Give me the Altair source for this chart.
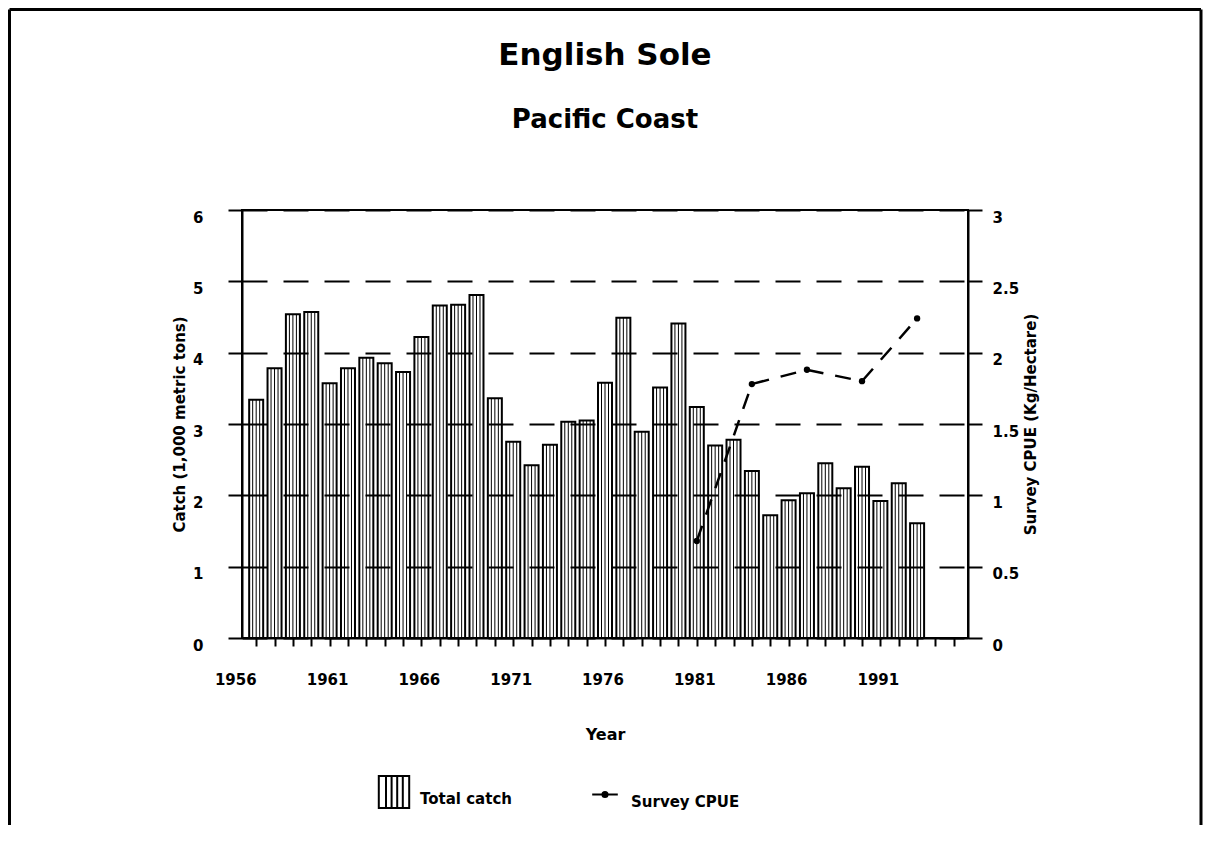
import altair as alt
import pandas as pd

# ---------------- data ----------------
years = list(range(1956, 1993))
total_catch = [3.34, 3.78, 4.54, 4.57, 3.57, 3.78, 3.93, 3.85, 3.73, 4.22,
               4.66, 4.67, 4.81, 3.36, 2.75, 2.42, 2.71, 3.03, 3.05, 3.58,
               4.49, 2.89, 3.51, 4.41, 3.24, 2.70, 2.78, 2.34, 1.72, 1.93,
               2.03, 2.45, 2.10, 2.40, 1.92, 2.17, 1.61]
survey_years = [1980, 1983, 1986, 1989, 1992]
survey_cpue = [0.68, 1.78, 1.88, 1.80, 2.24]
series_names = ["Total catch", "Survey CPUE"]
year_ticks = list(range(1956, 1995))
left_ticks = [0, 1, 2, 3, 4, 5, 6]
right_ticks = [0, 0.5, 1, 1.5, 2, 2.5, 3]

# ---------------- layout / style ----------------
W, H = 726, 428
FONT = "DejaVu Sans"
BAR_ICON = ("M-0.95,-1H0.95V1H-0.95Z M-0.5,-1V1 M-0.15,-1V1 M0.2,-1V1 M0.55,-1V1")
LINE_ICON = ("M-0.8,0H0.8 M-0.16,0A0.16,0.16 0 1,0 0.16,0A0.16,0.16 0 1,0 -0.16,0 "
             "M-0.07,0A0.07,0.07 0 1,0 0.07,0A0.07,0.07 0 1,0 -0.07,0")
FRAME_L, FRAME_R, FRAME_T, FRAME_B = -232.5, 959, -200.5, 615

catch_df = pd.DataFrame({"year": years, "catch": total_catch})
cpue_df = pd.DataFrame({"year": survey_years, "cpue": survey_cpue})
legend_df = pd.DataFrame({"series": series_names})
one_row = pd.DataFrame({"k": [0]})

common_label = dict(labelFont=FONT, labelFontWeight="bold", labelColor="black",
                    titleFont=FONT, titleFontWeight="bold", titleColor="black",
                    tickColor="black", tickWidth=2, domainColor="black", domainWidth=2)

x_axis = alt.Axis(values=year_ticks, format="d",
                  labelExpr="(datum.value - 1956) % 5 == 0 ? datum.label : ''",
                  labelAlign="right", labelBaseline="top", labelPadding=26,
                  labelFontSize=15, labelOverlap=False, labelFlush=False,
                  tickSize=8, grid=False, title="Year", titleFontSize=16,
                  titlePadding=39, **common_label)
x_scale = alt.Scale(domain=[1955.5, 1994.5], nice=False, zero=False)
X = alt.X("year:Q", scale=x_scale, axis=x_axis)

yl_axis = alt.Axis(values=left_ticks, format="d", orient="left", tickSize=14,
                   labelPadding=25, labelOffset=7, labelFontSize=15,
                   grid=True, gridColor="black", gridWidth=2, gridDash=[25, 16],
                   zindex=1, title="Catch (1,000 metric tons)", titleFontSize=15,
                   titlePadding=5, **common_label)
YL = alt.Y("catch:Q", scale=alt.Scale(domain=[0, 6], nice=False), axis=yl_axis)

yr_axis = alt.Axis(values=right_ticks, format=".1~f", orient="right", tickSize=14,
                   labelPadding=10, labelOffset=7, labelFontSize=15, grid=False,
                   title="Survey CPUE (Kg/Hectare)", titleFontSize=15,
                   titleAngle=270, titleBaseline="top", titlePadding=5,
                   **common_label)
YR = alt.Y("cpue:Q", scale=alt.Scale(domain=[0, 3], nice=False), axis=yr_axis)

bars = alt.Chart(catch_df).mark_bar(size=14, fill="white", stroke="black",
                                    strokeWidth=2).encode(x=X, y=YL)
stripes = [
    alt.Chart(catch_df).mark_rule(xOffset=o, color="black", strokeWidth=1)
    .encode(x=X, y=YL, y2=alt.datum(0))
    for o in (-3.5, 0, 3.5)
]
left_layer = alt.layer(bars, *stripes)

line = alt.Chart(cpue_df).mark_line(color="black", strokeWidth=2.5,
                                    strokeDash=[16, 12]).encode(x=X, y=YR)
pts = alt.Chart(cpue_df).mark_point(filled=True, color="black", size=40,
                                    opacity=1).encode(x=X, y=YR)
right_layer = alt.layer(line, pts)

legend_layer = alt.Chart(legend_df).transform_filter("false").mark_point(
    filled=False, color="black", strokeWidth=2, opacity=1).encode(
    shape=alt.Shape("series:N",
                    scale=alt.Scale(domain=series_names, range=[BAR_ICON, LINE_ICON]),
                    legend=alt.Legend(orient="none", legendX=135, legendY=565,
                                      direction="horizontal", title=None,
                                      symbolSize=1024, symbolStrokeWidth=2,
                                      symbolStrokeColor="black", symbolOpacity=1,
                                      labelFont=FONT, labelFontSize=15,
                                      labelFontWeight="bold", labelColor="black",
                                      labelOffset=9, columnPadding=76,
                                      labelBaseline="top", padding=0)))

frame_top = alt.Chart(one_row).mark_rule(color="black", strokeWidth=3).encode(
    x=alt.value(FRAME_L), x2=alt.value(FRAME_R), y=alt.value(FRAME_T))
frame_left = alt.Chart(one_row).mark_rule(color="black", strokeWidth=3).encode(
    x=alt.value(FRAME_L), y=alt.value(FRAME_T), y2=alt.value(FRAME_B))
frame_right = alt.Chart(one_row).mark_rule(color="black", strokeWidth=3).encode(
    x=alt.value(FRAME_R), y=alt.value(FRAME_T), y2=alt.value(FRAME_B))

title = alt.Title("English Sole", subtitle="Pacific Coast", font=FONT, fontSize=31,
                  fontWeight="bold", color="black", subtitleFont=FONT,
                  subtitleFontSize=26, subtitleFontWeight="bold",
                  subtitleColor="black", subtitlePadding=35, anchor="middle",
                  offset=-126)

chart = alt.layer(frame_top, frame_left, frame_right, left_layer, right_layer,
                  legend_layer).resolve_scale(y="independent").properties(
    width=W, height=H, title=title, padding=0, background="white"
).configure_view(stroke="black", strokeWidth=2)

chart.save("out.html", embed_options={"renderer": "svg", "actions": False})
